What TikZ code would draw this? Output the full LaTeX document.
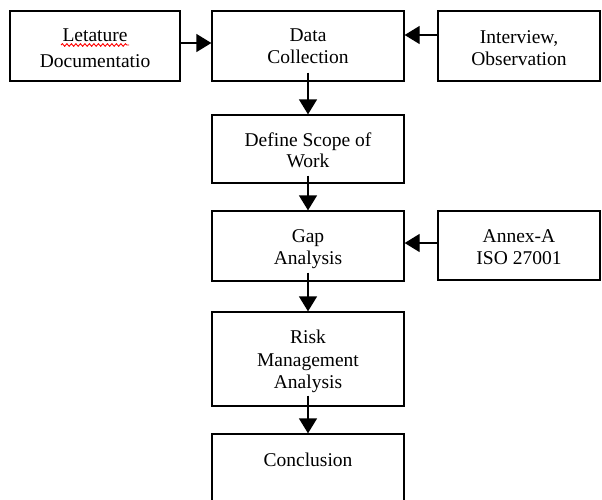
\documentclass[tikz,border=0pt]{standalone}
\usepackage{fontspec}
\setmainfont{Liberation Serif}
\usetikzlibrary{arrows.meta,decorations.pathmorphing}
\begin{document}
\begin{tikzpicture}[x=1pt,y=-1pt,
  box/.style={draw=black,line width=1.3pt,inner sep=0pt,rectangle},
  txt/.style={anchor=north,inner sep=0pt,align=center,font=\fontsize{19.5}{22}\selectfont},
  arr/.style={line width=1.3pt,-{Triangle[width=18pt,length=15pt]}}]
\useasboundingbox (0,0) rectangle (602,499);
% boxes
\node[box,minimum width=170pt,minimum height=70pt] (lit) at (95,46) {};
\node[box,minimum width=192pt,minimum height=70pt] (dc) at (308,46) {};
\node[box,minimum width=162pt,minimum height=70pt] (int) at (519,46) {};
\node[box,minimum width=192pt,minimum height=68pt] (def) at (308,149) {};
\node[box,minimum width=192pt,minimum height=70pt] (gap) at (308,246) {};
\node[box,minimum width=162pt,minimum height=69pt] (annex) at (519,245.5) {};
\node[box,minimum width=192pt,minimum height=94pt] (risk) at (308,359) {};
\node[box,minimum width=192pt,minimum height=86pt] (conc) at (308,477) {};
% texts
\node[txt] (litt) at (95,29) {Letature\\[4pt]Documentatio};
\node[txt] (dct) at (308,29) {Data\\Collection};
\node[txt] (intt) at (519,30) {Interview,\\Observation};
\node[txt] (deft) at (308,133) {Define Scope of\\[-1pt]Work};
\node[txt] (gapt) at (308,229) {Gap\\Analysis};
\node[txt] (annext) at (519,229) {Annex-A\\ISO 27001};
\node[txt,font=\fontsize{19.5}{22.5}\selectfont] (riskt) at (308,330) {Risk\\Management\\Analysis};
\node[txt] (conct) at (308,453) {Conclusion};
% spell-check underline
\coordinate (wl) at (61,45);
\coordinate (wr) at (129,45);
\draw[red,line width=0.9pt,decorate,decoration={snake,amplitude=1.3pt,segment length=4.5pt}] (wl) -- (wr);
% connectors
\draw[arr] ([yshift=3pt]lit.east) -- ([yshift=3pt]dc.west);
\draw[arr] ([yshift=11pt]int.west) -- ([yshift=11pt]dc.east);
\draw[arr] ([yshift=2.5pt]annex.west) -- ([yshift=3pt]gap.east);
\draw[arr] ([yshift=9pt]dc.south) -- (def.north);
\draw[arr] ([yshift=8pt]def.south) -- (gap.north);
\draw[arr] ([yshift=9pt]gap.south) -- (risk.north);
\draw[arr] ([yshift=11pt]risk.south) -- (conc.north);
\end{tikzpicture}
\end{document}
